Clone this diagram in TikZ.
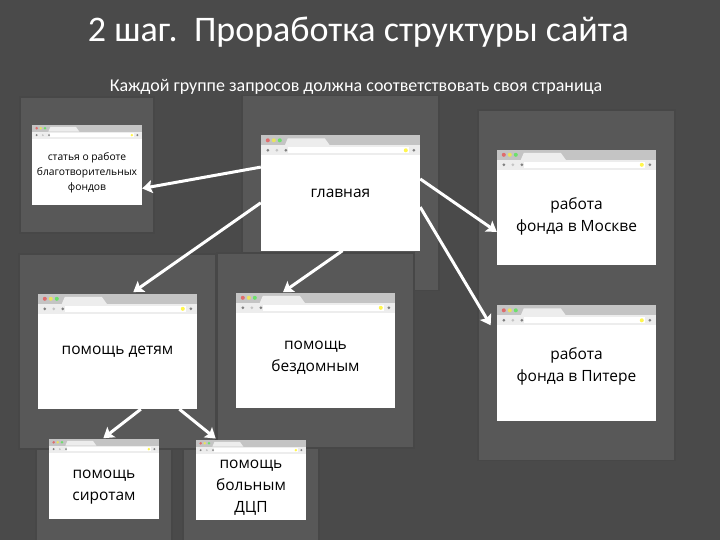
\documentclass[tikz,border=0pt]{standalone}
\usepackage{fontspec}
\setmainfont{Carlito}
\newfontfamily\bodyfont{Open Sans}
\usetikzlibrary{positioning, arrows.meta, fit, backgrounds}

\definecolor{bgdark}{HTML}{4A4A4A}
\definecolor{panelgray}{HTML}{585858}
\definecolor{rimgray}{HTML}{474747}
\definecolor{tabgray}{HTML}{C4C4C4}
\definecolor{barlight}{HTML}{EDEDED}

\tikzset{
	window/.style={rectangle, fill=white, inner sep=0pt, align=center, text=black,
		font=\bodyfont\fontsize{15.5}{22}\selectfont},
	bigwin/.style={window, minimum width=159pt, minimum height=115pt},
	smallwin/.style={window, minimum width=110pt, minimum height=80pt},
	panel/.style={rectangle, fill=panelgray, draw=rimgray, line width=1.5pt, inner xsep=#1},
	linkarrow/.style={draw=white, line width=3pt, -{Triangle[width=13pt, length=10pt, inset=2pt]}},
	headline/.style={text=white, inner sep=0pt},
}

\begin{document}
\begin{tikzpicture}[x=1pt, y=-1pt, on grid]
	\useasboundingbox (0,0) rectangle (720,540);
	\clip (0,0) rectangle (720,540);

	\node[headline, font=\fontsize{36}{40}\selectfont] (title) at (358.5,32) {2 шаг.\ \ Проработка структуры сайта};
	\node[headline, font=\fontsize{18}{22}\selectfont, below=55pt of title, xshift=-2.5pt] (subtitle) {Каждой группе запросов должна соответствовать своя страница};

	% windows
	\node[bigwin] (main) at (340.5,193) {главная};
	\node[smallwin, above left=28pt and 253.5pt of main, font=\bodyfont\fontsize{10.3}{15}\selectfont] (stat) {\strut\\[-3pt]статья о работе\\благотворительных\\фондов};
	\node[bigwin, right=236pt of main, yshift=-14.5pt] (moscow) {\strut\\[-7pt]работа\\фонда в Москве};
	\node[bigwin, below=155.5pt of moscow] (piter) {\strut\\[-18pt]работа\\фонда в Питере};
	\node[bigwin, below left=158.5pt and 223pt of main] (deti) {помощь детям};
	\node[bigwin, below left=157.5pt and 25pt of main] (bezd) {\strut\\[-14pt]помощь\\бездомным};
	\node[smallwin, below left=127.5pt and 13.5pt of deti] (sirot) {\strut\\[-13pt]помощь\\сиротам};
	\node[smallwin, below right=128.5pt and 133.5pt of deti] (dcp) {\strut\\[-14pt]помощь\\больным\\ДЦП};

	% browser bars
	\foreach \win/\size in {main/1, moscow/1, piter/1, deti/1, bezd/1, stat/0.69, sirot/0.69, dcp/0.69} {
		\begin{scope}[shift={(\win.north west)}, scale=\size]
			\fill[tabgray] (0,0) rectangle (159,10);
			\fill[barlight] (24,10) -- (27,3) -- (64,3) -- (69,10) -- cycle;
			\fill[barlight] (0,10) rectangle (159,20);
			\fill[white] (27,12) rectangle (148,18);
			\fill[red!45!tabgray] (7,5) circle (2);
			\fill[yellow!60!tabgray] (13,5) circle (2);
			\fill[green!45!tabgray] (19,5) circle (2);
			\fill[gray] (7,15) circle (1.5);
			\fill[tabgray] (16,15) circle (1.5);
			\fill[gray] (25,15) circle (1.5);
			\fill[yellow!70!white] (145,15) circle (2);
			\fill[gray] (153,15) circle (1.5);
		\end{scope}
	}

	% panels behind the windows
	\begin{scope}[on background layer]
		\fill[bgdark] (0,0) rectangle (720,540);
		\node[panel=12pt, inner ysep=28pt, fit=(stat)] (pstat) {};
		\node[panel=19pt, inner ysep=40pt, fit=(main)] (pmain) {};
		\node[panel=19pt, inner ysep=40pt, fit=(moscow)(piter)] (pright) {};
		\node[panel=13pt, inner ysep=28pt, fit=(sirot)] (psirot) {};
		\node[panel=13pt, inner ysep=28pt, fit=(dcp)] (pdcp) {};
		\node[panel=19pt, inner ysep=40pt, fit=(deti)] (pdeti) {};
		\node[panel=19pt, inner ysep=40pt, fit=(bezd)] (pbezd) {};
	\end{scope}

	\draw[linkarrow] (main.162.5) -- (stat.-23.6);
	\draw[linkarrow, shorten >=3pt] (main.187.2) -- (deti.77.7);
	\draw[linkarrow, shorten >=1pt] (main.-88.5) -- (bezd.120.2);
	\draw[linkarrow] (main.10.7) -- (moscow.197.8);
	\draw[linkarrow, shorten >=12pt] (main.-10) -- (piter.161.2);
	\draw[linkarrow, shorten >=1pt] (deti.-68.6) -- (sirot.92.9);
	\draw[linkarrow, shorten >=2pt] (deti.-43.5) -- (dcp.130.4);
\end{tikzpicture}
\end{document}
